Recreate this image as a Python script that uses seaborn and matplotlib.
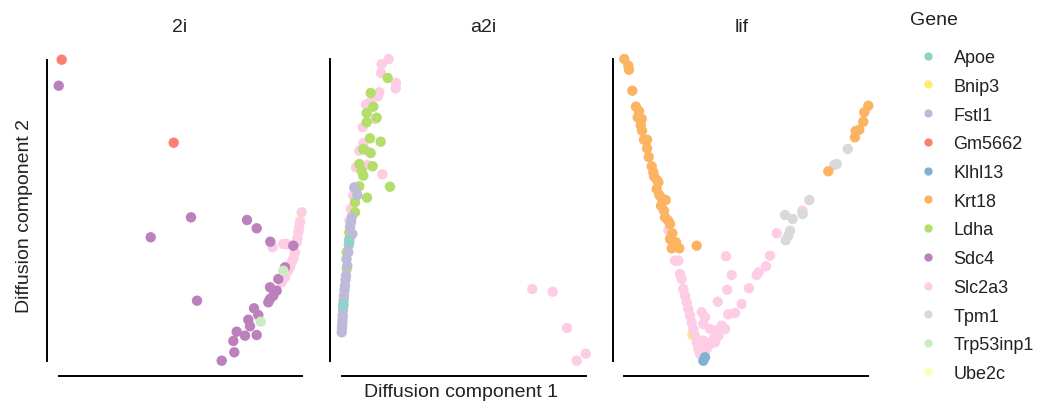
import pandas as pd
import matplotlib.pyplot as plt
import seaborn as sns

# --- data: diffusion map coordinates (arbitrary units) ---
gene_order = ["Apoe", "Bnip3", "Fstl1", "Gm5662", "Klhl13", "Krt18", "Ldha",
              "Sdc4", "Slc2a3", "Tpm1", "Trp53inp1", "Ube2c"]
gene_colors = ["#8dd3c7", "#ffed6f", "#bebada", "#fb8072", "#80b1d3", "#fdb462",
               "#b3de69", "#bc80bd", "#fccde5", "#d9d9d9", "#ccebc5", "#ffffb3"]
conditions = ["2i", "a2i", "lif"]

pts_2i = [
    ("Gm5662", 61.7, 339.3), ("Sdc4", 58.7, 313.3), ("Gm5662", 173.7, 256.3),
    ("Sdc4", 191.0, 181.7), ("Sdc4", 150.7, 161.7), ("Sdc4", 247.0, 179.0),
    ("Sdc4", 256.7, 170.7), ("Sdc4", 197.0, 98.3),
    ("Slc2a3", 272.7, 151.7), ("Slc2a3", 283.3, 155.0), ("Slc2a3", 286.7, 155.0),
    ("Sdc4", 270.3, 157.3), ("Ube2c", 300.5, 180.0),
    ("Slc2a3", 301.7, 186.7), ("Slc2a3", 300.0, 176.7), ("Slc2a3", 299.0, 171.0),
    ("Slc2a3", 298.3, 166.7), ("Slc2a3", 297.5, 161.0), ("Slc2a3", 296.7, 156.7),
    ("Slc2a3", 295.0, 146.7), ("Slc2a3", 293.5, 141.0), ("Slc2a3", 291.7, 136.7),
    ("Slc2a3", 290.0, 132.0), ("Slc2a3", 288.3, 128.3), ("Slc2a3", 285.0, 121.7),
    ("Slc2a3", 281.7, 116.7),
    ("Sdc4", 293.3, 153.3), ("Sdc4", 285.0, 131.7), ("Sdc4", 278.3, 120.0),
    ("Sdc4", 270.0, 111.7), ("Sdc4", 276.7, 108.3), ("Sdc4", 273.3, 103.3),
    ("Sdc4", 270.0, 100.0), ("Sdc4", 268.3, 96.7), ("Sdc4", 254.0, 90.7),
    ("Sdc4", 258.3, 84.0), ("Sdc4", 248.3, 79.3), ("Sdc4", 250.0, 72.7),
    ("Sdc4", 236.7, 67.3), ("Sdc4", 245.0, 63.3), ("Sdc4", 256.7, 64.0),
    ("Sdc4", 233.3, 58.0), ("Sdc4", 234.3, 46.7), ("Sdc4", 221.7, 38.3),
    ("Trp53inp1", 283.3, 128.3), ("Trp53inp1", 260.7, 77.3),
]

pts_a2i = [
    ("Slc2a3", 388.7, 340.0), ("Slc2a3", 381.7, 335.0), ("Slc2a3", 381.0, 326.0),
    ("Slc2a3", 396.0, 316.0), ("Slc2a3", 395.7, 310.7), ("Slc2a3", 379.3, 306.7),
    ("Slc2a3", 377.7, 302.7),
    ("Slc2a3", 366.0, 294.3), ("Slc2a3", 370.0, 296.7), ("Slc2a3", 362.7, 271.7),
    ("Slc2a3", 375.0, 280.0), ("Slc2a3", 363.3, 256.0), ("Slc2a3", 359.3, 248.3),
    ("Slc2a3", 366.7, 248.3), ("Slc2a3", 356.0, 231.7), ("Slc2a3", 367.7, 234.0),
    ("Slc2a3", 382.3, 224.7), ("Slc2a3", 354.3, 210.0), ("Slc2a3", 353.3, 203.3),
    ("Slc2a3", 350.7, 190.0), ("Slc2a3", 349.3, 178.3),
    ("Ldha", 387.7, 321.0), ("Ldha", 370.7, 306.0), ("Ldha", 373.3, 292.3),
    ("Ldha", 366.7, 286.0), ("Ldha", 376.7, 281.3), ("Ldha", 366.7, 276.7),
    ("Ldha", 370.0, 260.7), ("Ldha", 380.7, 257.3), ("Ldha", 370.7, 246.0),
    ("Ldha", 363.3, 250.0), ("Ldha", 359.3, 235.0), ("Ldha", 361.7, 228.3),
    ("Ldha", 363.3, 223.3), ("Ldha", 372.7, 232.7), ("Ldha", 390.0, 212.3),
    ("Ldha", 367.0, 201.3), ("Ldha", 359.3, 212.7), ("Ldha", 355.0, 196.7),
    ("Ldha", 355.0, 186.7), ("Ldha", 349.3, 166.7), ("Ldha", 346.7, 146.7),
    ("Ldha", 346.7, 130.0),
    ("Fstl1", 354.3, 211.7), ("Fstl1", 357.3, 204.0), ("Fstl1", 351.7, 181.7),
    ("Fstl1", 351.0, 176.7), ("Fstl1", 350.0, 172.0), ("Fstl1", 352.3, 165.0),
    ("Fstl1", 349.3, 160.0), ("Fstl1", 348.8, 154.0), ("Fstl1", 348.3, 146.7),
    ("Fstl1", 346.5, 140.0), ("Fstl1", 347.3, 133.3), ("Fstl1", 346.0, 123.3),
    ("Fstl1", 345.5, 119.0), ("Fstl1", 345.0, 113.3), ("Fstl1", 344.5, 109.0),
    ("Fstl1", 344.0, 103.3), ("Fstl1", 343.7, 99.0), ("Fstl1", 343.3, 93.3),
    ("Fstl1", 343.0, 89.0), ("Fstl1", 342.7, 83.3), ("Fstl1", 342.5, 79.0),
    ("Fstl1", 342.3, 75.0), ("Fstl1", 342.0, 71.0), ("Fstl1", 341.7, 66.7),
    ("Apoe", 349.3, 157.3), ("Apoe", 343.3, 94.3),
    ("Slc2a3", 532.3, 110.0), ("Slc2a3", 552.7, 107.3), ("Slc2a3", 567.0, 71.0),
    ("Slc2a3", 585.7, 45.3), ("Slc2a3", 576.7, 38.3),
]

pts_lif = [
    ("Slc2a3", 668.3, 169.0), ("Slc2a3", 671.7, 158.3),
    ("Krt18", 624.3, 340.0), ("Krt18", 628.3, 333.3), ("Krt18", 629.0, 329.3),
    ("Krt18", 632.3, 308.3), ("Krt18", 636.0, 292.3), ("Krt18", 639.0, 287.7),
    ("Krt18", 637.7, 281.7), ("Krt18", 641.7, 280.0), ("Krt18", 640.7, 274.0),
    ("Krt18", 642.0, 268.3), ("Krt18", 644.0, 259.3), ("Krt18", 647.0, 259.3),
    ("Krt18", 647.0, 250.7), ("Krt18", 648.7, 242.0), ("Krt18", 651.7, 232.7),
    ("Krt18", 653.3, 226.7), ("Krt18", 654.0, 222.7), ("Krt18", 656.7, 219.3),
    ("Krt18", 658.3, 216.7), ("Krt18", 656.7, 210.0), ("Krt18", 659.3, 204.0),
    ("Krt18", 661.7, 200.7), ("Krt18", 665.7, 199.0), ("Krt18", 661.0, 193.3),
    ("Krt18", 664.0, 188.3), ("Krt18", 665.0, 181.7), ("Krt18", 668.3, 178.3),
    ("Krt18", 670.0, 175.0), ("Krt18", 672.3, 165.7), ("Krt18", 670.0, 160.0),
    ("Krt18", 676.0, 156.7), ("Krt18", 671.7, 150.7), ("Krt18", 679.3, 150.7),
    ("Krt18", 696.7, 153.3),
    ("Bnip3", 692.3, 64.0),
    ("Slc2a3", 675.0, 138.3), ("Slc2a3", 678.3, 138.3), ("Slc2a3", 680.0, 125.0),
    ("Slc2a3", 681.7, 120.0), ("Slc2a3", 683.3, 110.0), ("Slc2a3", 685.0, 103.3),
    ("Slc2a3", 686.7, 96.7), ("Slc2a3", 688.3, 90.0), ("Slc2a3", 690.0, 83.3),
    ("Slc2a3", 691.7, 76.7), ("Slc2a3", 693.3, 70.0), ("Slc2a3", 695.0, 63.3),
    ("Slc2a3", 696.7, 56.7), ("Slc2a3", 698.3, 50.0), ("Slc2a3", 700.0, 45.0),
    ("Slc2a3", 701.7, 86.7), ("Slc2a3", 705.0, 81.7), ("Slc2a3", 703.3, 75.0),
    ("Slc2a3", 710.0, 70.0), ("Slc2a3", 715.0, 68.3), ("Slc2a3", 721.7, 73.3),
    ("Slc2a3", 725.0, 70.0), ("Slc2a3", 713.3, 60.0), ("Slc2a3", 710.0, 55.0),
    ("Slc2a3", 706.7, 50.0), ("Slc2a3", 703.3, 58.3), ("Slc2a3", 718.3, 63.3),
    ("Slc2a3", 715.0, 56.7),
    ("Slc2a3", 802.3, 188.3), ("Slc2a3", 776.7, 165.7), ("Slc2a3", 770.0, 143.3),
    ("Slc2a3", 766.0, 132.7), ("Slc2a3", 758.7, 126.7), ("Slc2a3", 756.7, 124.0),
    ("Slc2a3", 749.0, 110.7), ("Slc2a3", 741.7, 95.0), ("Slc2a3", 735.0, 86.0),
    ("Slc2a3", 728.3, 84.7), ("Slc2a3", 726.0, 142.7), ("Slc2a3", 731.7, 124.0),
    ("Slc2a3", 727.3, 109.3), ("Slc2a3", 717.7, 97.3),
    ("Tpm1", 847.7, 250.0), ("Tpm1", 836.7, 235.0), ("Tpm1", 834.3, 234.0),
    ("Tpm1", 809.3, 199.0), ("Tpm1", 802.7, 185.0), ("Tpm1", 785.0, 184.0),
    ("Tpm1", 792.7, 180.0), ("Tpm1", 790.0, 168.3), ("Tpm1", 788.3, 163.3),
    ("Tpm1", 785.7, 158.7),
    ("Krt18", 868.3, 293.3), ("Krt18", 864.3, 286.7), ("Krt18", 863.3, 277.3),
    ("Krt18", 859.3, 269.3), ("Krt18", 855.7, 268.0), ("Krt18", 855.0, 261.7),
    ("Krt18", 828.3, 227.7),
    ("Klhl13", 703.3, 38.3), ("Klhl13", 705.0, 41.7),
]

# where the panel titles sit (figure pixels, horizontal centre)
title_x = [180, 483, 742]

# --- build long table ---
frames = []
for cond, pts in zip(conditions, [pts_2i, pts_a2i, pts_lif]):
    d = pd.DataFrame(pts, columns=["Gene", "dc1", "dc2"])
    d["condition"] = cond
    frames.append(d)
df = pd.concat(frames, ignore_index=True)

sns.set_theme(style="white", context="notebook",
              rc={"axes.labelsize": 14, "axes.titlesize": 14,
                  "legend.fontsize": 13, "legend.title_fontsize": 14,
                  "axes.edgecolor": "black", "text.color": "#222222",
                  "axes.labelcolor": "#222222"})
plt.rcParams["font.family"] = ["Liberation Sans", "DejaVu Sans"]

W, H = 1040, 406
g = sns.relplot(data=df, x="dc1", y="dc2", hue="Gene", col="condition",
                col_order=conditions, hue_order=gene_order,
                palette=dict(zip(gene_order, gene_colors)),
                s=56, linewidth=0, alpha=1,
                facet_kws=dict(sharex=False, sharey=False),
                height=3.5, aspect=0.8)
g.figure.set_size_inches(W / 100, H / 100)

for i, (ax, cond) in enumerate(zip(g.axes.flat, conditions)):
    sub = df[df["condition"] == cond]
    x0, x1 = sub["dc1"].min(), sub["dc1"].max()
    y0, y1 = sub["dc2"].min(), sub["dc2"].max()
    left, right = x0 - 11.5, x1 + 6
    bottom, top = y0 - 15.5, y1 + 6
    ax.set_xlim(left, right)
    ax.set_ylim(bottom, top)
    ax.set_position([left / W, (bottom + 6) / H, (right - left) / W, (top - bottom) / H])
    ax.set_xticks([])
    ax.set_yticks([])
    for side in ["left", "bottom"]:
        ax.spines[side].set_linewidth(1.4)
        ax.spines[side].set_color("black")
    ax.spines["left"].set_bounds(y0, y1)
    ax.spines["bottom"].set_bounds(x0, x1)
    ax.set_title(cond, x=(title_x[i] - left) / (right - left), pad=16)
    ax.set_xlabel("Diffusion component 1" if i == 1 else "", labelpad=5)
    ax.set_ylabel("Diffusion component 2" if i == 0 else "", labelpad=10)

sns.move_legend(g, "upper left", bbox_to_anchor=(903 / W, 1 - 5 / H),
                frameon=False, labelspacing=0.65, handletextpad=0.4,
                markerscale=0.8, borderaxespad=0, alignment="left")
g._legend.get_title().set_fontsize(14)
g._legend._legend_box.sep = 15

plt.savefig("out.png", dpi=100)
